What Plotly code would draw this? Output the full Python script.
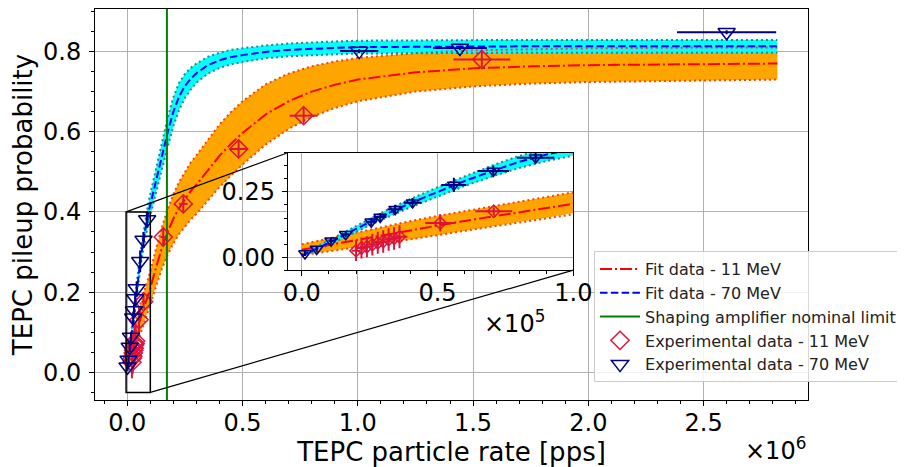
import plotly.graph_objects as go

# ---------------- data ----------------
FIT_X = [0, 10000, 20000, 30000, 40000, 50000, 60000, 70000, 80000, 90000, 100000,
         125000, 150000, 175000, 200000, 225000, 250000, 275000, 300000, 350000,
         400000, 450000, 500000, 600000, 700000, 800000, 900000, 1000000, 1250000,
         1500000, 1750000, 2000000, 2500000, 2820000]

FIT11 = [0.028, 0.047, 0.066, 0.085, 0.103, 0.121, 0.139, 0.157, 0.175, 0.192, 0.21,
         0.262, 0.31, 0.35, 0.383, 0.41, 0.432, 0.452, 0.468, 0.505, 0.54, 0.57, 0.597,
         0.643, 0.676, 0.70, 0.717, 0.73, 0.748, 0.758, 0.763, 0.766, 0.769, 0.77]
FIT11_UP = [0.049, 0.072, 0.095, 0.117, 0.138, 0.158, 0.177, 0.196, 0.215, 0.233, 0.252,
            0.309, 0.362, 0.407, 0.444, 0.475, 0.500, 0.523, 0.541, 0.581, 0.618, 0.649,
            0.676, 0.718, 0.745, 0.763, 0.775, 0.784, 0.796, 0.803, 0.806, 0.808, 0.810, 0.810]
FIT11_LO = [0.007, 0.022, 0.037, 0.053, 0.068, 0.084, 0.101, 0.118, 0.135, 0.151, 0.168,
            0.215, 0.258, 0.293, 0.322, 0.345, 0.364, 0.381, 0.395, 0.429, 0.462, 0.491,
            0.518, 0.568, 0.607, 0.637, 0.659, 0.676, 0.700, 0.713, 0.720, 0.724, 0.728, 0.730]

FIT70 = [0.006, 0.055, 0.108, 0.16, 0.207, 0.25, 0.292, 0.33, 0.365, 0.393, 0.418,
         0.48, 0.54, 0.598, 0.65, 0.688, 0.714, 0.732, 0.746, 0.766, 0.778, 0.786, 0.791,
         0.799, 0.804, 0.807, 0.809, 0.811, 0.812, 0.813, 0.813, 0.813, 0.813, 0.813]
FIT70_UP = [0.010, 0.063, 0.119, 0.174, 0.223, 0.268, 0.311, 0.351, 0.388, 0.418, 0.445,
            0.511, 0.574, 0.634, 0.686, 0.722, 0.744, 0.759, 0.770, 0.787, 0.797, 0.804,
            0.808, 0.815, 0.820, 0.823, 0.825, 0.827, 0.828, 0.829, 0.829, 0.829, 0.829, 0.829]
FIT70_LO = [0.002, 0.047, 0.097, 0.146, 0.191, 0.232, 0.273, 0.309, 0.342, 0.368, 0.391,
            0.449, 0.506, 0.562, 0.614, 0.654, 0.684, 0.705, 0.722, 0.745, 0.759, 0.768,
            0.774, 0.783, 0.788, 0.791, 0.793, 0.795, 0.796, 0.797, 0.797, 0.797, 0.797, 0.797]

EXP11_X = [20000, 22000, 24000, 26000, 28000, 30000, 32000, 34000, 36000,
           51000, 70700, 156000, 243000, 483000, 765000, 1538000]
EXP11_Y = [0.025, 0.035, 0.04, 0.048, 0.055, 0.06, 0.068, 0.072, 0.078,
           0.131, 0.176, 0.3375, 0.42, 0.557, 0.64, 0.78]
EXP11_XERR = [1600, 1800, 1900, 2100, 2200, 2400, 2600, 2700, 2900,
              5500, 6800, 12000, 19000, 39000, 61000, 123000]
EXP11_YERR = [0.04, 0.04, 0.04, 0.042, 0.042, 0.043, 0.043, 0.044, 0.044,
              0.033, 0.015, 0.02, 0.02, 0.02, 0.02, 0.02]

EXP70_X = [1200, 5500, 10800, 16200, 25600, 28900, 34400, 40800, 56000, 70500, 86100,
           1006000, 1443000, 2600000]
EXP70_Y = [0.014, 0.031, 0.063, 0.088, 0.136, 0.154, 0.184, 0.209, 0.277, 0.330, 0.381,
           0.801, 0.809, 0.848]
EXP70_XERR = [100, 450, 900, 1300, 2000, 2300, 2800, 3300, 4600, 5800, 6900,
              83000, 117000, 215000]
EXP70_YERR = [0.01, 0.012, 0.012, 0.012, 0.015, 0.015, 0.017, 0.018, 0.027, 0.02, 0.019,
              0.005, 0.005, 0.005]

AMP_LIMIT = 172000

MAIN_XTICKS = [0, 500000, 1000000, 1500000, 2000000, 2500000]
MAIN_XTEXT = ["0.0", "0.5", "1.0", "1.5", "2.0", "2.5"]
MAIN_YTICKS = [0.0, 0.2, 0.4, 0.6, 0.8]
MAIN_YTEXT = ["0.0", "0.2", "0.4", "0.6", "0.8"]
INSET_XTICKS = [0, 50000, 100000]
INSET_XTEXT = ["0.0", "0.5", "1.0"]
INSET_YTICKS = [0.0, 0.25]
INSET_YTEXT = ["0.00", "0.25"]

# ---------------- layout constants ----------------
MAIN_XR = [-140000, 2953000]
MAIN_YR = [-0.069, 0.906]
INSET_XR = [-5150, 100000]
INSET_YR = [-0.05, 0.4]
INSET_XD = [0.2703, 0.6709]
INSET_YD = [0.332, 0.6322]

FONT = "DejaVu Sans"
ORANGE = "#FFA500"
CYAN = "#00FFFF"
ORANGE_EDGE = "#FF4500"
CYAN_EDGE = "#258a8a"
CRIMSON = "#DC143C"
NAVY = "#000080"

fig = go.Figure()


def add_set(xa, ya, main):
    dsize = 14 if main else 9.5
    tsize = 15 if main else 11
    # bands
    fig.add_trace(go.Scatter(x=FIT_X + FIT_X[::-1], y=FIT11_UP + FIT11_LO[::-1],
                             fill="toself", fillcolor=ORANGE, line=dict(width=0),
                             mode="lines", showlegend=False, hoverinfo="skip",
                             xaxis=xa, yaxis=ya))
    fig.add_trace(go.Scatter(x=FIT_X + FIT_X[::-1], y=FIT70_UP + FIT70_LO[::-1],
                             fill="toself", fillcolor=CYAN, line=dict(width=0),
                             mode="lines", showlegend=False, hoverinfo="skip",
                             xaxis=xa, yaxis=ya))
    for arr, col in [(FIT11_UP, ORANGE_EDGE), (FIT11_LO, ORANGE_EDGE),
                     (FIT70_UP, CYAN_EDGE), (FIT70_LO, CYAN_EDGE)]:
        fig.add_trace(go.Scatter(x=FIT_X, y=arr, mode="lines",
                                 line=dict(color=col, width=2, dash="2px,3px"),
                                 showlegend=False, hoverinfo="skip", xaxis=xa, yaxis=ya))
    # fits
    fig.add_trace(go.Scatter(x=FIT_X, y=FIT11, mode="lines", name="Fit data - 11 MeV",
                             line=dict(color="#FF0000", width=2, dash="12px,3px,2px,3px"),
                             showlegend=main, legendrank=1, xaxis=xa, yaxis=ya))
    fig.add_trace(go.Scatter(x=FIT_X, y=FIT70, mode="lines", name="Fit data - 70 MeV",
                             line=dict(color="#0000FF", width=2, dash="7.5px,3.3px"),
                             showlegend=main, legendrank=2, xaxis=xa, yaxis=ya))
    if main:
        fig.add_trace(go.Scatter(x=[AMP_LIMIT, AMP_LIMIT], y=MAIN_YR, mode="lines",
                                 name="Shaping amplifier nominal limit",
                                 line=dict(color="#008000", width=2),
                                 legendrank=3, xaxis=xa, yaxis=ya))
    # experimental data
    fig.add_trace(go.Scatter(x=EXP11_X, y=EXP11_Y, mode="markers",
                             name="Experimental data - 11 MeV",
                             marker=dict(symbol="diamond-open", size=dsize, color=CRIMSON,
                                         line=dict(width=1.5, color=CRIMSON)),
                             error_x=dict(type="data", array=EXP11_XERR, color=CRIMSON,
                                          thickness=2, width=0),
                             error_y=dict(type="data", array=EXP11_YERR, color=CRIMSON,
                                          thickness=2, width=0),
                             showlegend=main, legendrank=4, xaxis=xa, yaxis=ya))
    fig.add_trace(go.Scatter(x=EXP70_X, y=EXP70_Y, mode="markers",
                             name="Experimental data - 70 MeV",
                             marker=dict(symbol="triangle-down-open", size=tsize, color=NAVY,
                                         line=dict(width=1.5, color=NAVY)),
                             error_x=dict(type="data", array=EXP70_XERR, color=NAVY,
                                          thickness=2, width=0),
                             error_y=dict(type="data", array=EXP70_YERR, color=NAVY,
                                          thickness=2, width=0),
                             showlegend=main, legendrank=5, xaxis=xa, yaxis=ya))


add_set("x", "y", True)
add_set("x2", "y2", False)

axis_common = dict(showline=True, linecolor="black", linewidth=1, mirror=True,
                   ticks="outside", ticklen=5, tickwidth=1, tickcolor="black",
                   showgrid=True, gridcolor="#b0b0b0", gridwidth=1, zeroline=False,
                   tickfont=dict(size=24, family=FONT, color="black"),
                   automargin=False, tickmode="array")

# the page body adds an 8px offset, so the figure is 8px smaller than the window
fig.update_layout(
    width=897, height=459,
    margin=dict(l=87, r=97, t=1.3, b=67, autoexpand=False),
    paper_bgcolor="white", plot_bgcolor="white",
    font=dict(family=FONT, color="black"),
    xaxis=dict(domain=[0, 1], range=MAIN_XR, tickvals=MAIN_XTICKS, ticktext=MAIN_XTEXT,
               minor=dict(dtick=100000, tick0=0, ticks="outside", ticklen=3,
                          tickcolor="black", showgrid=False),
               title=dict(text="TEPC particle rate [pps]", font=dict(size=26), standoff=4),
               ticklabelstandoff=-4, anchor="y", **axis_common),
    yaxis=dict(domain=[0, 1], range=MAIN_YR, tickvals=MAIN_YTICKS, ticktext=MAIN_YTEXT,
               minor=dict(dtick=0.05, tick0=0, ticks="outside", ticklen=3,
                          tickcolor="black", showgrid=False),
               title=dict(text="TEPC pileup probability", font=dict(size=26), standoff=4),
               ticklabelstandoff=3, anchor="x", **axis_common),
    xaxis2=dict(domain=INSET_XD, range=INSET_XR, tickvals=INSET_XTICKS,
                ticktext=INSET_XTEXT, anchor="y2", ticklabelstandoff=-4,
                minor=dict(dtick=10000, tick0=0, ticks="outside", ticklen=3,
                           tickcolor="black", showgrid=False),
                **axis_common),
    yaxis2=dict(domain=INSET_YD, range=INSET_YR, tickvals=INSET_YTICKS,
                ticktext=INSET_YTEXT, anchor="x2", ticklabelstandoff=2,
                minor=dict(dtick=0.05, tick0=0, ticks="outside", ticklen=3,
                           tickcolor="black", showgrid=False),
                **axis_common),
    legend=dict(x=0.6999, y=0.381, xanchor="left", yanchor="top",
                bgcolor="rgba(255,255,255,0.85)", bordercolor="#cccccc", borderwidth=1,
                font=dict(size=16, family=FONT, color="#222222"), itemwidth=40,
                tracegroupgap=0),
    showlegend=True,
)


def to_paper(x, y):
    return ((x - MAIN_XR[0]) / (MAIN_XR[1] - MAIN_XR[0]),
            (y - MAIN_YR[0]) / (MAIN_YR[1] - MAIN_YR[0]))


# zoom rectangle and connectors (mark_inset)
fig.add_shape(type="rect", xref="x", yref="y", x0=INSET_XR[0], x1=INSET_XR[1],
              y0=INSET_YR[0], y1=INSET_YR[1], line=dict(color="black", width=1.5),
              layer="above")
tl = to_paper(INSET_XR[0], INSET_YR[1])
br = to_paper(INSET_XR[1], INSET_YR[0])
fig.add_shape(type="line", xref="paper", yref="paper", x0=tl[0], y0=tl[1],
              x1=INSET_XD[0], y1=INSET_YD[1], line=dict(color="black", width=1.2))
fig.add_shape(type="line", xref="paper", yref="paper", x0=br[0], y0=br[1],
              x1=INSET_XD[1], y1=INSET_YD[0], line=dict(color="black", width=1.2))

# offset texts
fig.add_annotation(text="×10<sup>6</sup>", xref="paper", yref="paper", x=1.0, y=-0.125,
                   xanchor="right", yanchor="middle", showarrow=False,
                   font=dict(size=24, family=FONT, color="black"))
fig.add_annotation(text="×10<sup>5</sup>", xref="paper", yref="paper", x=0.634, y=0.199,
                   xanchor="right", yanchor="middle", showarrow=False,
                   font=dict(size=24, family=FONT, color="black"))

fig.write_html("out.html")
